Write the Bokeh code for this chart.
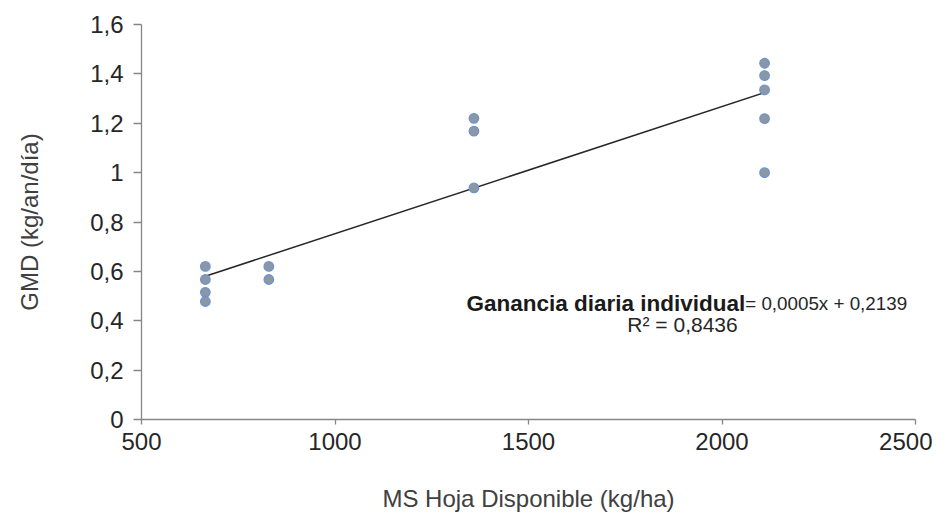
import numpy as np
from bokeh.plotting import figure
from bokeh.models import Range1d, FixedTicker, Label
from bokeh.embed import file_html
from bokeh.resources import INLINE

# ---- data ----
ms_hoja = [665, 665, 665, 665, 829, 829, 1359, 1359, 1359, 2110, 2110, 2110, 2110, 2110]
gmd = [0.62, 0.567, 0.515, 0.478, 0.62, 0.567, 1.22, 1.168, 0.938, 1.443, 1.393, 1.335, 1.219, 1.0]

x_ticks = [500, 1000, 1500, 2000, 2500]
y_ticks = [0, 0.2, 0.4, 0.6, 0.8, 1, 1.2, 1.4, 1.6]
y_tick_labels = ["0", "0,2", "0,4", "0,6", "0,8", "1", "1,2", "1,4", "1,6"]

x_title = "MS Hoja Disponible (kg/ha)"
y_title = "GMD (kg/an/día)"
eq_bold = "Ganancia diaria individual"
eq_text = "= 0,0005x + 0,2139"
r2_text = "R² = 0,8436"

FONT = "Liberation Sans"

p = figure(width=932, height=515, output_backend="svg", toolbar_location=None,
           x_range=Range1d(500, 2500), y_range=Range1d(0, 1.6),
           min_border_left=141, min_border_right=17, min_border_top=24, min_border_bottom=96)
p.outline_line_color = None
p.grid.visible = False
p.background_fill_color = "white"
p.border_fill_color = "white"

# axes
p.xaxis.ticker = FixedTicker(ticks=x_ticks)
p.yaxis.ticker = FixedTicker(ticks=y_ticks)
p.yaxis.major_label_overrides = {t: l for t, l in zip(y_ticks, y_tick_labels)}
for ax in (p.xaxis, p.yaxis):
    ax.axis_line_color = "#868686"
    ax.axis_line_width = 1.3
    ax.major_tick_line_color = "#868686"
    ax.major_tick_line_width = 1.3
    ax.minor_tick_line_color = None
    ax.major_tick_in = 0
    ax.major_label_text_font = FONT
    ax.major_label_text_font_size = "24px"
    ax.major_label_text_color = "#262626"
    ax.axis_label_text_font = FONT
    ax.axis_label_text_font_size = "24px"
    ax.axis_label_text_font_style = "normal"
    ax.axis_label_text_color = "#404040"
p.xaxis.major_tick_out = 5
p.yaxis.major_tick_out = 8
p.xaxis.major_label_standoff = 8
p.yaxis.major_label_standoff = 10
p.xaxis.axis_label = x_title
p.yaxis.axis_label = y_title
p.xaxis.axis_label_standoff = 32
p.yaxis.axis_label_standoff = 44

# linear trend line (least squares fit of the data)
slope, intercept = np.polyfit(ms_hoja, gmd, 1)
xl = np.array([min(ms_hoja), max(ms_hoja)])
p.line(xl, slope * xl + intercept, line_color="#262626", line_width=1.5)

# points
p.scatter(ms_hoja, gmd, size=9.5, fill_color="#8c97a6", line_color="#6a94cf", line_width=1.3)

# equation annotation
eq_x = 2060
eq_y = 0.469
p.add_layout(Label(x=eq_x, y=eq_y, text=eq_bold, text_align="right", text_baseline="alphabetic",
                   text_font=FONT, text_font_size="22.5px", text_font_style="bold", text_color="#1a1a1a"))
p.add_layout(Label(x=eq_x, y=eq_y, text=eq_text, text_align="left", text_baseline="alphabetic",
                   text_font=FONT, text_font_size="18.8px", text_color="#262626"))
p.add_layout(Label(x=1898, y=0.385, text=r2_text, text_align="center", text_baseline="alphabetic",
                   text_font=FONT, text_font_size="21px", text_color="#262626"))

open("out.html", "w").write(file_html(p, INLINE))
